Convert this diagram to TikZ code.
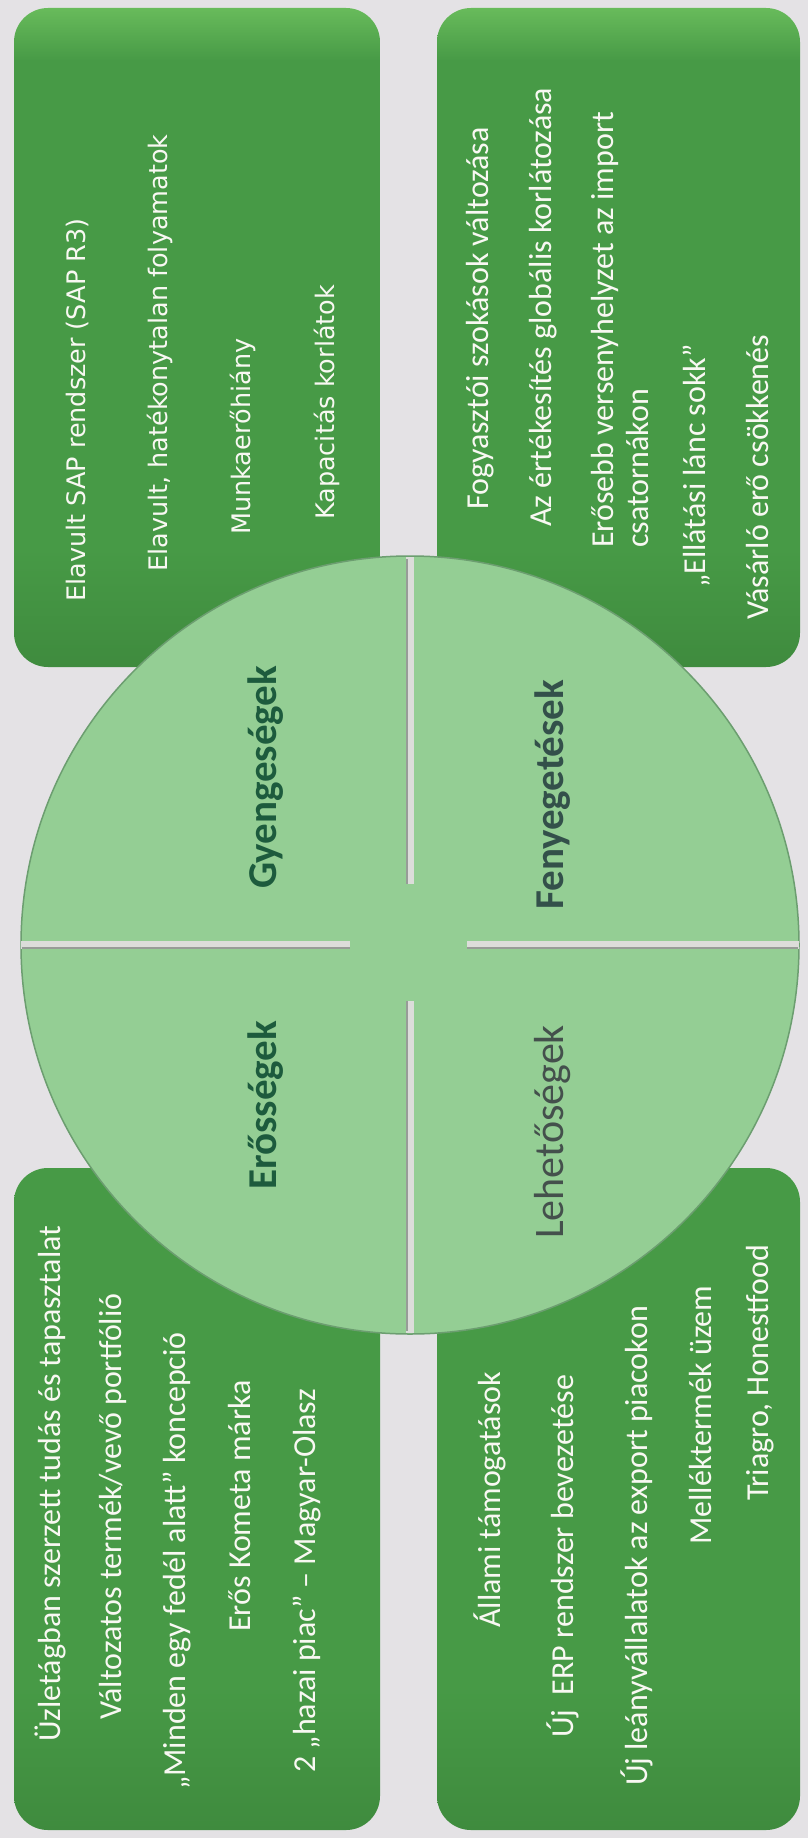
\documentclass[tikz,border=0pt]{standalone}
\usepackage{fontspec}
\setmainfont{Carlito}
\newfontfamily\verdfont{DejaVu Sans}
\usetikzlibrary{calc}
\definecolor{paper}{HTML}{E4E2E5}
\definecolor{panegreen}{HTML}{479A46}
\definecolor{panelight}{HTML}{68BB5B}
\definecolor{panedark}{HTML}{3F8B3E}
\definecolor{discgreen}{HTML}{94CE94}
\definecolor{discedge}{HTML}{6C9E70}
\definecolor{sepgray}{HTML}{DCDDDA}
\definecolor{sepdark}{HTML}{979C97}
\definecolor{labgreen}{HTML}{1D5B3D}
\definecolor{labslate}{HTML}{33504A}
\definecolor{labgray}{HTML}{44504C}
\definecolor{itemwhite}{HTML}{F8F8F2}
\pgfdeclareverticalshading{paneshade}{100bp}{color(0bp)=(panedark); color(25bp)=(panedark);
  color(34bp)=(panegreen); color(71bp)=(panegreen); color(75bp)=(panelight); color(100bp)=(panelight)}
\pgfdeclareverticalshading{lowshade}{100bp}{color(0bp)=(panedark); color(25bp)=(panedark);
  color(36bp)=(panegreen); color(100bp)=(panegreen)}
\tikzset{
  pane/.style={rounded corners=34pt, shading=paneshade},
  lowpane/.style={pane, shading=lowshade},
  item/.style={rotate=90, anchor=west, inner sep=0pt, text=itemwhite,
    font=\fontsize{32}{35}\selectfont},
  witem/.style={item, font=\verdfont\fontsize{25.5}{30}\selectfont},
  quad/.style={rotate=90, anchor=west, inner sep=0pt, text=labgreen,
    font=\bfseries\fontsize{41}{48}\selectfont},
  sep/.style={line width=8pt, sepgray},
  sepedge/.style={line width=1.6pt, sepdark},
}

\begin{document}
\begin{tikzpicture}[x=1pt,y=-1pt]
  \useasboundingbox (0,0) rectangle (808,1838);
  \fill[paper] (0,0) rectangle (808,1838);
  % the four panes
  \shade[pane] (14,8) rectangle (380,667);
  \shade[pane] (437,8) rectangle (800,667);
  \shade[lowpane] (14,1168) rectangle (380,1830);
  \shade[lowpane] (437,1168) rectangle (800,1830);
  % the disc, cut in four
  \coordinate (c) at (410,945);
  \filldraw[fill=discgreen, draw=discedge, line width=1.5pt] (c) circle[radius=389pt];
  \draw[sep] (410,557) -- (410,884);
  \draw[sep] (410,1001) -- (410,1333);
  \draw[sep] (21,945) -- (350,945);
  \draw[sep] (467,945) -- (799,945);
  \draw[sepedge] (407,559) -- (407,884);
  \draw[sepedge] (407,1001) -- (407,1331);
  \draw[sepedge] (22,948) -- (350,948);
  \draw[sepedge] (467,948) -- (798,948);
  \node[quad] (weak) at (266,889) {Gyengeségek};
  \node[quad] (strong) at (266,1190) {Erősségek};
  \node[quad, text=labslate] (threat) at (553,910) {Fenyegetések};
  \node[quad, font=\fontsize{42}{48}\selectfont, text=labgray] (chance) at (553,1239) {Lehetőségek};
  % weaknesses
  \node[witem] (w1) at (77,602) {Elavult SAP rendszer (SAP R3)};
  \node[witem] (w2) at (160,572) {Elavult, hatékonytalan folyamatok};
  \node[witem] (w3) at (243,535) {Munkaerőhiány};
  \node[witem] (w4) at (327,520) {Kapacitás korlátok};
  % threats
  \node[item] (t1) at (480,510) {Fogyasztói szokások változása};
  \node[item] (t2) at (543,527) {Az értékesítés globális korlátozása};
  \node[item, align=left] (t3) at (620,548) {Erősebb versenyhelyzet az import\\csatornákon};
  \node[item] (t4) at (697,588) {„Ellátási lánc sokk”};
  \node[item] (t5) at (757,620) {Vásárló erő csökkenés};
  % strengths
  \node[item] (s1) at (50,1742) {Üzletágban szerzett tudás és tapasztalat};
  \node[item] (s2) at (113,1720) {Változatos termék/vevő portfólió};
  \node[item] (s3) at (177,1790) {„Minden egy fedél alatt” koncepció};
  \node[item] (s4) at (240,1632) {Erős Kometa márka};
  \node[item] (s5) at (307,1773) {2 „hazai piac” – Magyar-Olasz};
  % opportunities
  \node[item] (o1) at (490,1628) {Állami támogatások};
  \node[item] (o2) at (563,1738) {Új\ \ ERP rendszer bevezetése};
  \node[item] (o3) at (637,1786) {Új leányvállalatok az export piacokon};
  \node[item] (o4) at (700,1545) {Melléktermék üzem};
  \node[item] (o5) at (760,1501) {Triagro, Honestfood};
\end{tikzpicture}
\end{document}
